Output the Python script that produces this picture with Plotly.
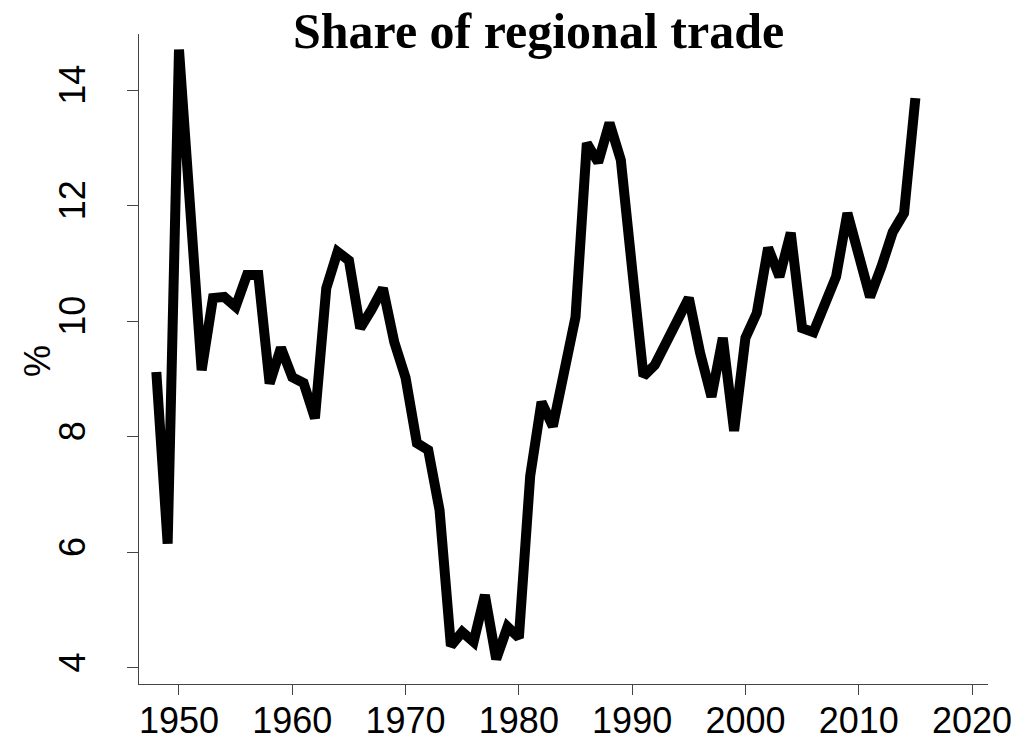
import plotly.graph_objects as go

years = list(range(1948, 2016))
share = [
    9.12, 6.15, 14.7, 11.8, 9.15, 10.4, 10.42, 10.25, 10.8, 10.8,
    8.92, 9.54, 9.03, 8.93, 8.32, 10.57, 11.2, 11.05, 9.88, 10.2,
    10.57, 9.64, 9.02, 7.89, 7.77, 6.73, 4.38, 4.62, 4.45, 5.26,
    4.15, 4.71, 4.52, 7.32, 8.6, 8.18, 9.07, 10.07, 13.08, 12.75,
    13.43, 12.79, 10.9, 9.05, 9.24, 9.66, 10.07, 10.4, 9.45, 8.69,
    9.71, 8.1, 9.71, 10.14, 11.27, 10.77, 11.53, 9.88, 9.81, 10.31,
    10.77, 11.87, 11.15, 10.42, 10.94, 11.54, 11.87, 13.86,
]
x_ticks = [1950, 1960, 1970, 1980, 1990, 2000, 2010, 2020]
y_ticks = [4, 6, 8, 10, 12, 14]

fig = go.Figure()
fig.add_trace(go.Scatter(
    x=years, y=share, mode="lines",
    line=dict(color="black", width=10),
    hoverinfo="skip", showlegend=False,
))

tick_font = dict(family="Liberation Sans, Arial, sans-serif", size=36, color="black")

# page body has an 8px default margin, so the figure is offset by (8, 8)
fig.update_layout(
    width=1035, height=740,
    margin=dict(l=131, r=55, t=26, b=64, autoexpand=False),
    paper_bgcolor="white", plot_bgcolor="white",
    xaxis=dict(
        range=[1946.47, 2021.41], tickvals=x_ticks,
        ticks="outside", ticklen=10, tickwidth=1, tickcolor="#444",
        showline=True, linecolor="#444", linewidth=1,
        showgrid=False, zeroline=False, tickfont=tick_font,
        ticklabelstandoff=-5,
    ),
    yaxis=dict(
        range=[3.72, 14.97], tickvals=y_ticks,
        ticks="outside", ticklen=11, tickwidth=1, tickcolor="#444",
        showline=True, linecolor="#444", linewidth=1,
        showgrid=False, zeroline=False, tickfont=tick_font,
        tickangle=-90, ticklabelstandoff=28,
    ),
    annotations=[
        dict(text="<b>Share of regional trade</b>", xref="paper", yref="paper",
             x=(538 - 139) / 849, y=(684 - 30.5) / 650, xanchor="center", yanchor="middle",
             showarrow=False, borderpad=0,
             font=dict(family="Liberation Serif, Times New Roman, serif", size=50, color="black")),
        dict(text="%", xref="paper", yref="paper",
             x=(37 - 139) / 849, y=(684 - 361) / 650, xanchor="center", yanchor="middle",
             textangle=-90, showarrow=False,
             font=tick_font),
    ],
)

fig.write_html("out.html")
